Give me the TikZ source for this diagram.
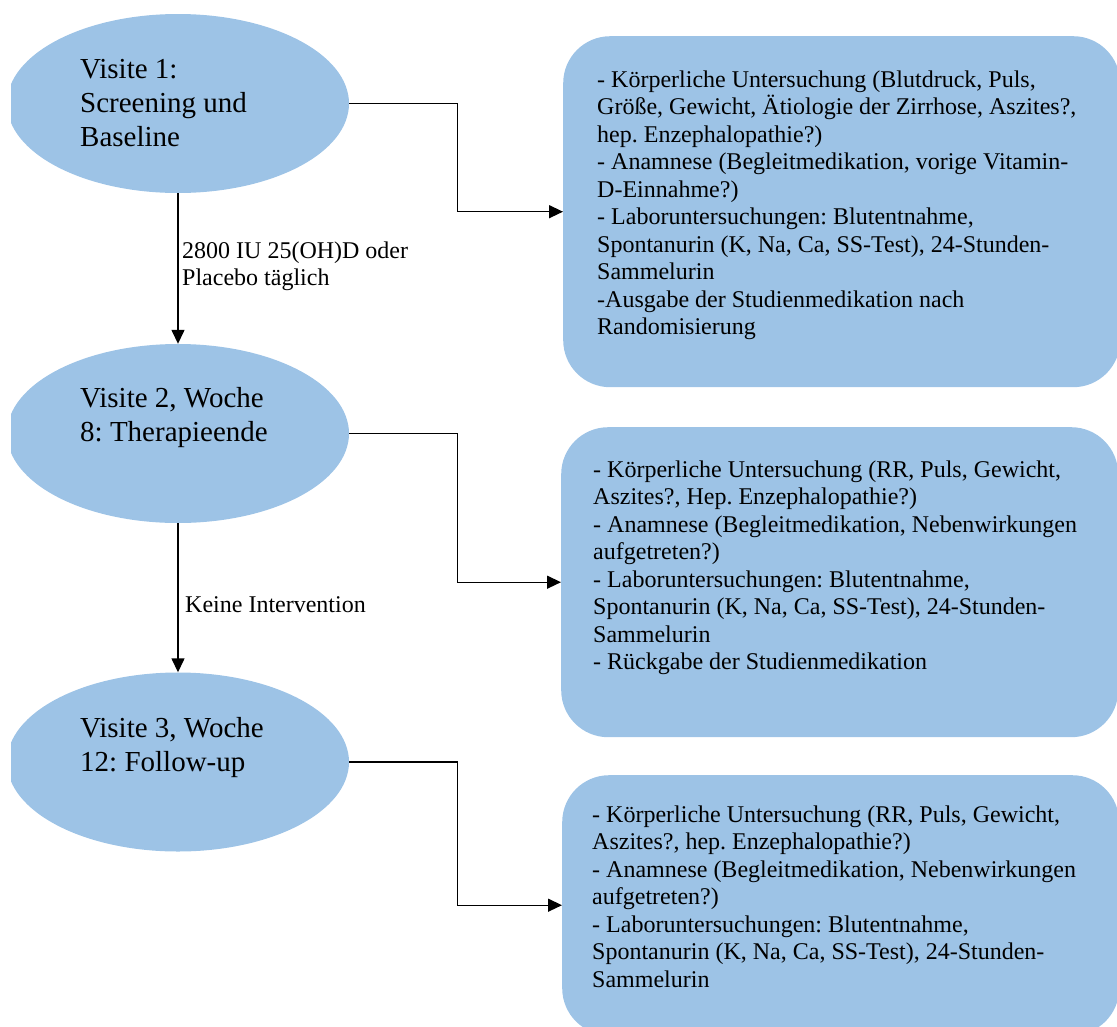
\documentclass[tikz,border=0pt]{standalone}
\usepackage{fontspec}
\setmainfont{Liberation Serif}
\usetikzlibrary{arrows.meta,shapes.geometric}
\definecolor{lblue}{RGB}{157,195,230}
\begin{document}
\frenchspacing
\begin{tikzpicture}[x=1pt,y=-1pt,
  visit/.style={ellipse,fill=lblue,draw=none,minimum width=342pt,minimum height=179pt,inner sep=0pt},
  infobox/.style={rectangle,rounded corners=47pt,fill=lblue,draw=none,minimum width=557pt,inner sep=0pt,anchor=north west},
  vtext/.style={inner sep=0pt,anchor=base west,font=\fontsize{29}{34}\selectfont},
  btext/.style={inner sep=0pt,anchor=base west,font=\fontsize{24}{27.5}\selectfont},
  ltext/.style={inner sep=0pt,anchor=base west,font=\fontsize{24}{27}\selectfont},
  conn/.style={line width=1.4pt,-{Triangle[length=14pt,width=13pt]}}]
\useasboundingbox (0,0) rectangle (1117,1026);
\begin{scope}
\clip (11,0) rectangle (1117,1026);
\node[visit] (e1) at (178,103.5) {};
\node[visit] (e2) at (178,433.5) {};
\node[visit] (e3) at (178,762) {};
\node[infobox,minimum height=351pt] (b1) at (563,36) {};
\node[infobox,minimum height=310pt] (b2) at (561,427) {};
\node[infobox,minimum height=260pt] (b3) at (562,775) {};
\end{scope}
\node[vtext] (t1) at (80,78) {\parbox[t]{260pt}{Visite 1:\\Screening und\\Baseline}};
\node[vtext] (t2) at (80,407) {\parbox[t]{260pt}{Visite 2, Woche\\8: Therapieende}};
\node[vtext] (t3) at (80,737) {\parbox[t]{260pt}{Visite 3, Woche\\12: Follow-up}};
\node[btext] (c1) at (597,87) {\parbox[t]{515pt}{- Körperliche Untersuchung (Blutdruck, Puls,\\Größe, Gewicht, Ätiologie der Zirrhose, Aszites?,\\hep. Enzephalopathie?)\\- Anamnese (Begleitmedikation, vorige Vitamin-\\D-Einnahme?)\\- Laboruntersuchungen: Blutentnahme,\\Spontanurin (K, Na, Ca, SS-Test), 24-Stunden-\\Sammelurin\\-Ausgabe der Studienmedikation nach\\Randomisierung}};
\node[btext] (c2) at (593,477) {\parbox[t]{515pt}{- Körperliche Untersuchung (RR, Puls, Gewicht,\\Aszites?, Hep. Enzephalopathie?)\\- Anamnese (Begleitmedikation, Nebenwirkungen\\aufgetreten?)\\- Laboruntersuchungen: Blutentnahme,\\Spontanurin (K, Na, Ca, SS-Test), 24-Stunden-\\Sammelurin\\- Rückgabe der Studienmedikation}};
\node[btext] (c3) at (592,822) {\parbox[t]{515pt}{- Körperliche Untersuchung (RR, Puls, Gewicht,\\Aszites?, hep. Enzephalopathie?)\\- Anamnese (Begleitmedikation, Nebenwirkungen\\aufgetreten?)\\- Laboruntersuchungen: Blutentnahme,\\Spontanurin (K, Na, Ca, SS-Test), 24-Stunden-\\Sammelurin}};
\node[ltext] (l1) at (182,258) {\parbox[t]{260pt}{2800 IU 25(OH)D oder\\Placebo täglich}};
\node[ltext] (l2) at (185,612) {Keine Intervention};
\draw[conn] (e1.south) -- (e2.north);
\draw[conn] (e2.south) -- (e3.north);
\draw[conn] (e1.east) -- ++(108,0) |- (b1.west);
\draw[conn] (e2.east) -- ++(108,0) |- (b2.west);
\draw[conn] (e3.east) -- ++(108,0) |- (b3.west);
\end{tikzpicture}
\end{document}
